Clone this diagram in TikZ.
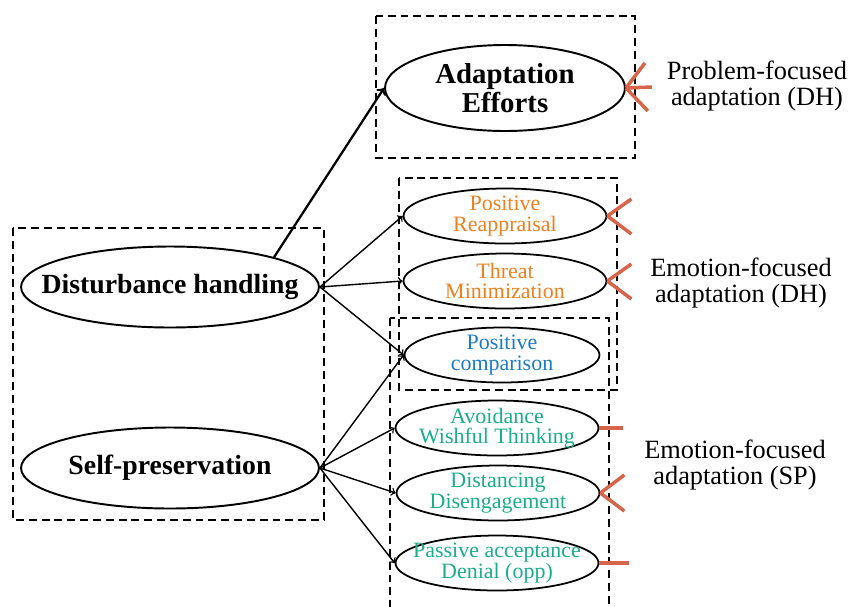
\documentclass[tikz,border=0pt]{standalone}
\usepackage{fontspec}
\setmainfont{Liberation Serif}
\usetikzlibrary{shapes.geometric, positioning, arrows}

\definecolor{orangetxt}{HTML}{F07F1E}
\definecolor{bluetxt}{HTML}{1B7CC5}
\definecolor{greentxt}{HTML}{1AAE8C}
\definecolor{markred}{HTML}{D6654A}

\begin{document}
\begin{tikzpicture}
[x=0.02cm, y=-0.02cm,
 big/.style={ellipse, draw, line width=1.1pt, inner xsep=-20pt, inner ysep=0pt,
             minimum width=5.96cm, minimum height=1.62cm,
             font=\fontsize{15.8}{18}\selectfont\bfseries},
 sub/.style={ellipse, draw, line width=1pt, inner xsep=-12pt, inner ysep=-4pt,
             align=center, minimum width=4.06cm, minimum height=1.1cm,
             font=\fontsize{12.5}{11.5}\selectfont,
             execute at begin node=\rule{0pt}{12pt}},
 groupbox/.style={line width=1.4pt, dash pattern=on 4.5pt off 2.8pt},
 note/.style={align=center, font=\fontsize{15}{14.5}\selectfont},
 mk/.style={draw=markred, line width=2pt},
 link/.style={->, line width=0.8pt}]
\useasboundingbox (0,0) rectangle (852,606);
\clip (0,0) rectangle (852,606);

% groups
\draw[groupbox] (13,228) rectangle (324,520);
\draw[groupbox] (376,16) rectangle (635,158);
\draw[groupbox] (399,178) rectangle (617,390);
\draw[groupbox] (390,318) rectangle (609,640);

% main nodes
\node[big] (dh) at (170,287) {Disturbance handling};
\node[big] (sp) at (170,468) {Self-preservation};
\node[big, align=center, minimum width=4.8cm, minimum height=1.72cm,
      font=\fontsize{16.4}{16.4}\selectfont\bfseries] (ae) at (505,88) {Adaptation\\Efforts};

% strategies
\node[sub, text=orangetxt] (pr) at (505,216) {Positive\\Reappraisal};
\node[sub, text=orangetxt] (tm) at (505,281) {Threat\\Minimization};
\node[sub, text=bluetxt, minimum width=3.9cm] (pc) at (502,355) {Positive\\comparison};
\node[sub, text=greentxt] (av) at (497,428) {Avoidance\\Wishful Thinking};
\node[sub, text=greentxt] (di) at (498,493) {Distancing\\Disengagement};
\node[sub, text=greentxt] (pa) at (497,563) {Passive acceptance\\Denial (opp)};

% labels
\node[note] (pfa) at (757,86) {Problem-focused\\adaptation (DH)};
\node[note] (efdh) at (741,283) {Emotion-focused\\adaptation (DH)};
\node[note] (efsp) at (735,465) {Emotion-focused\\adaptation (SP)};

% links
\draw[->, line width=1.3pt] (dh.16) -- (ae.west);
\path[link]
	(dh.east) edge (pr.west)
		edge (tm.west)
		edge (pc.west)
	(sp.east) edge (pc.west)
		edge (av.west)
		edge (di.west)
		edge (pa.west);

% markers
\draw[mk] (ae.east) -- ++(19,-25) (ae.east) -- ++(26,-1) (ae.east) -- ++(22,23);
\draw[mk] (pr.east) -- ++(24,-17) (pr.east) -- ++(24,18);
\draw[mk] (tm.east) -- ++(24,-17) (tm.east) -- ++(24,18);
\draw[mk] (av.east) -- ++(24,0);
\draw[mk] (di.east) -- ++(24,-18) (di.east) -- ++(24,18);
\draw[mk] (pa.east) -- ++(30,0);
\end{tikzpicture}
\end{document}
